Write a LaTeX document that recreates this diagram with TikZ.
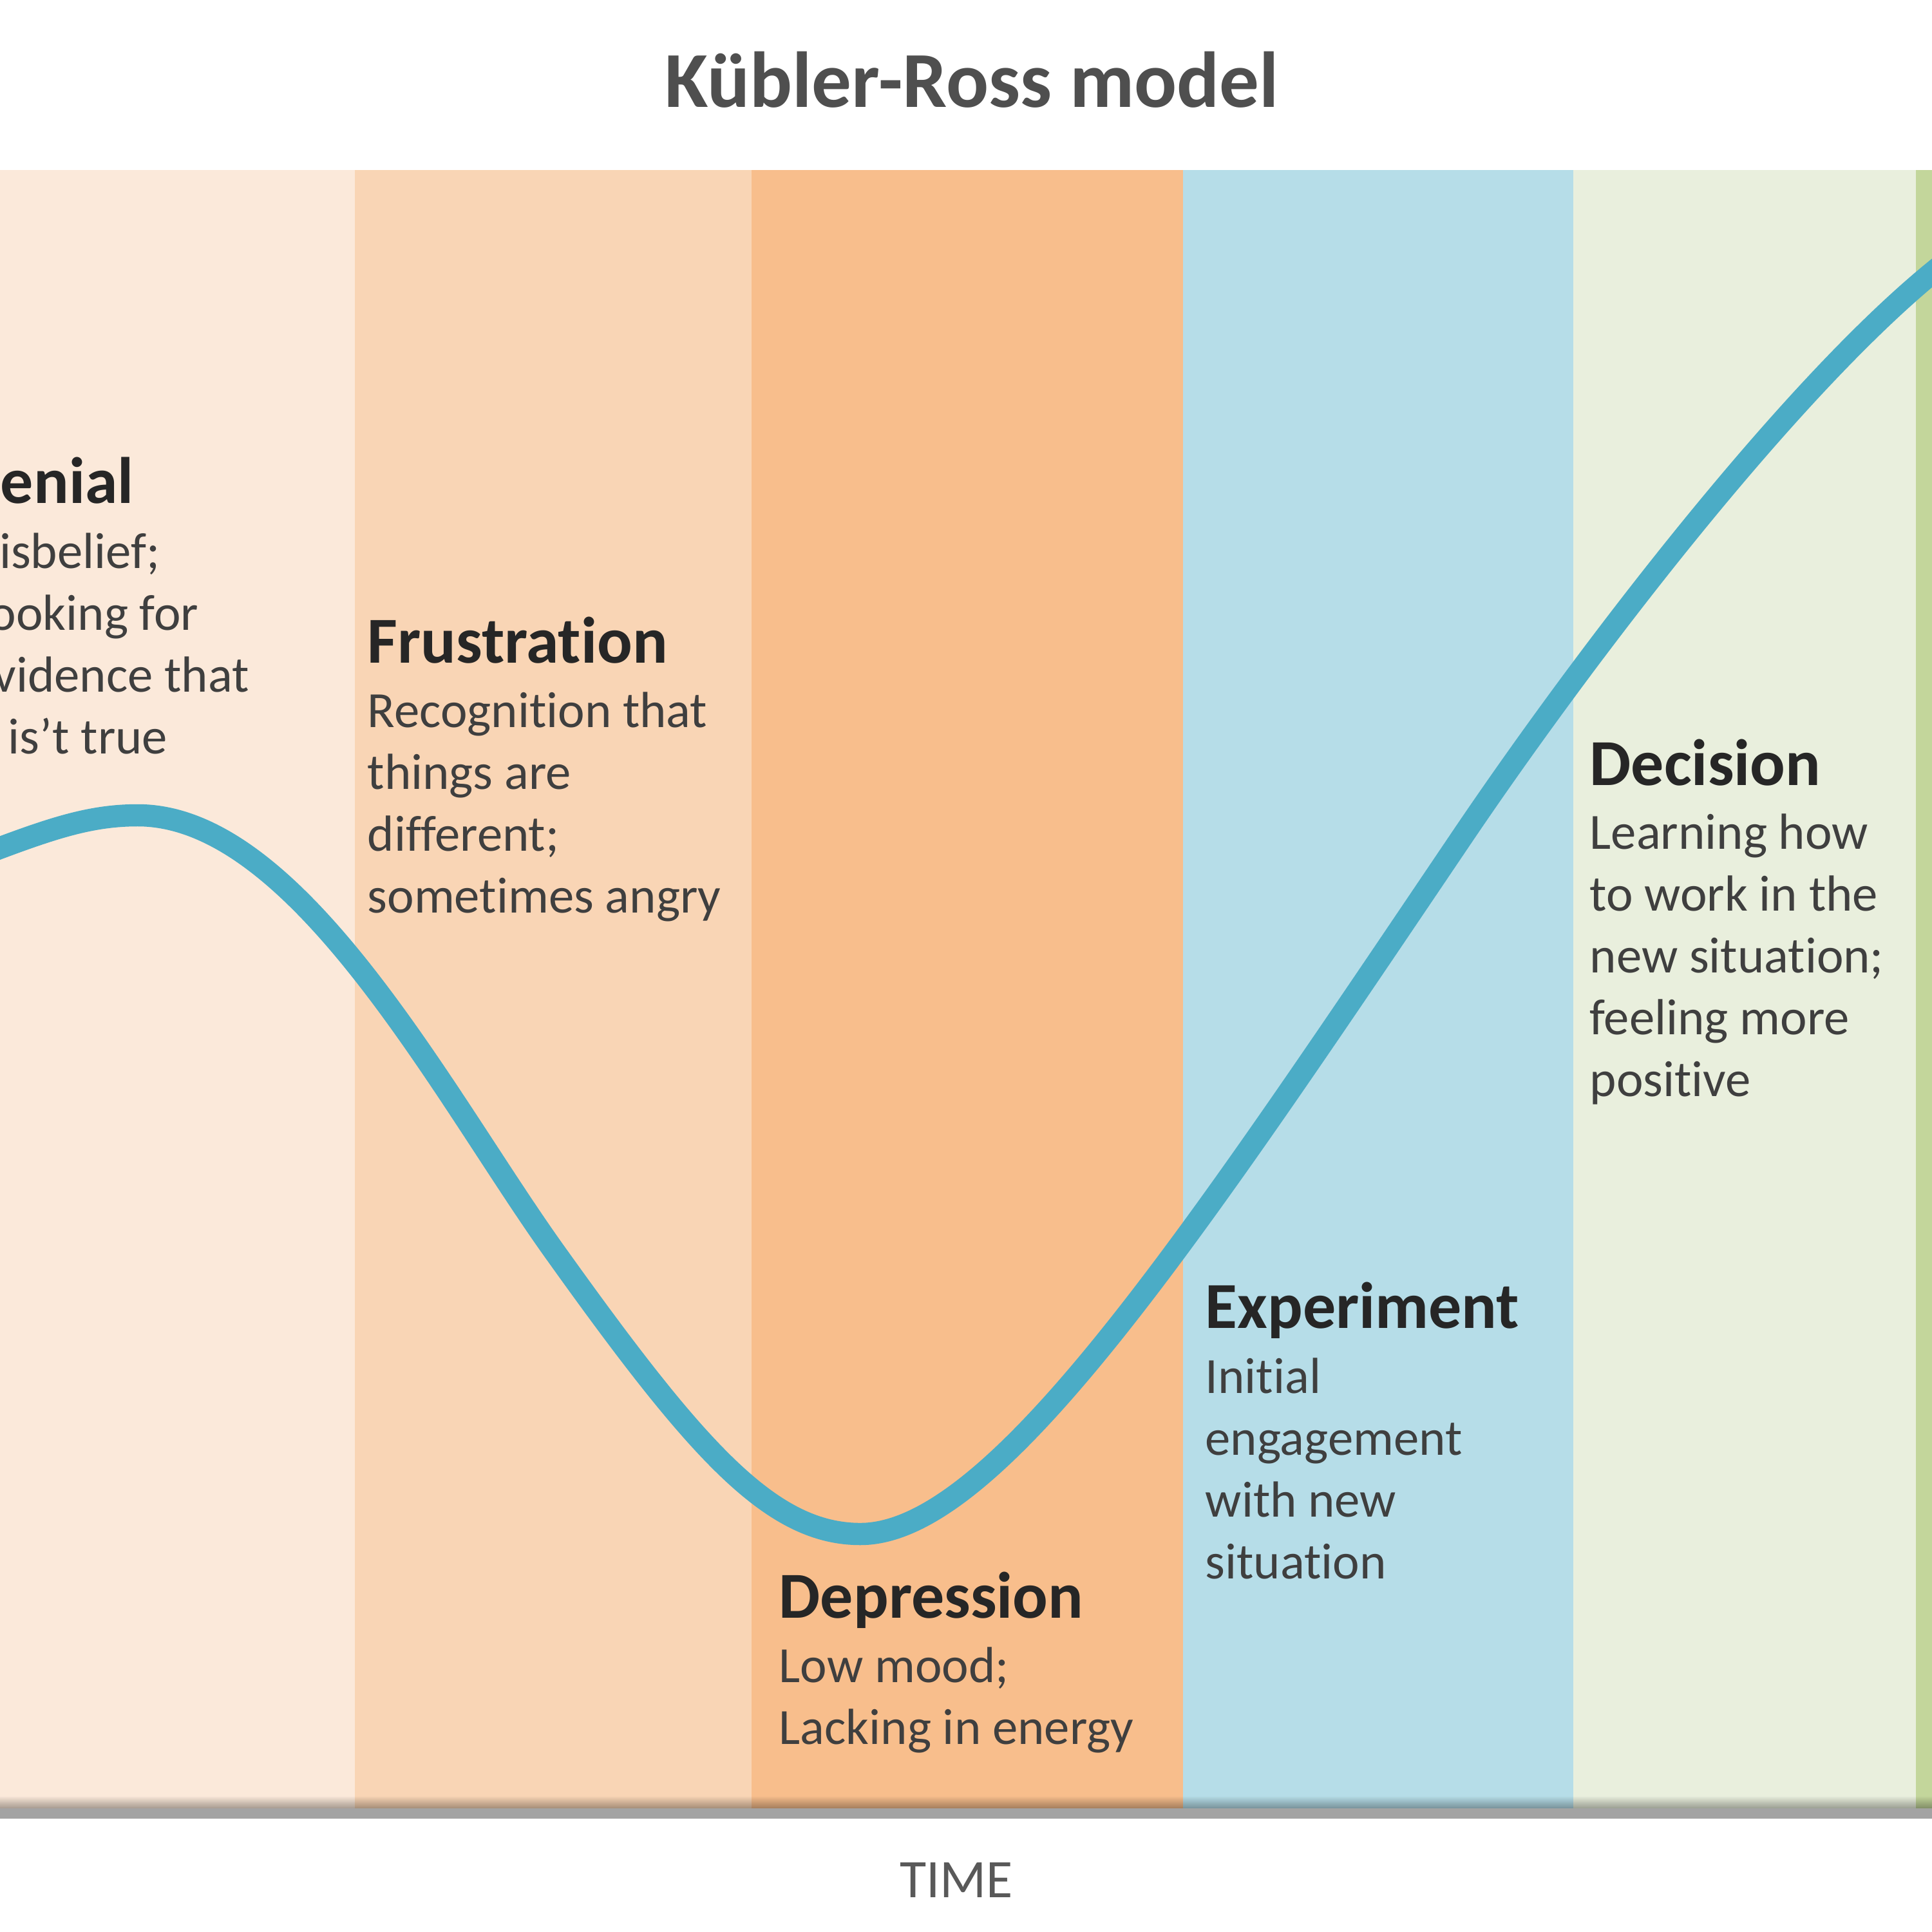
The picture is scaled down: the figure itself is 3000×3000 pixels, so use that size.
\documentclass[tikz,border=0pt]{standalone}
\usepackage{fontspec}
\setmainfont{Carlito}[Ligatures={NoCommon,NoContextual,NoRare},Contextuals=NoAlternate]
\definecolor{bandA}{HTML}{FBE9DA}
\definecolor{bandB}{HTML}{F9D5B5}
\definecolor{bandC}{HTML}{F8BE8C}
\definecolor{bandD}{HTML}{B6DDE8}
\definecolor{bandE}{HTML}{E9EFDD}
\definecolor{bandF}{HTML}{C3D69B}
\definecolor{curvec}{HTML}{4BACC6}
\definecolor{titlec}{HTML}{4F4F4F}
\definecolor{headc}{HTML}{262626}
\definecolor{bodyc}{HTML}{3F3F3F}
\definecolor{timec}{HTML}{595959}
\begin{document}
\begin{tikzpicture}[x=0.01cm,y=-0.01cm,
  band/.style={fill=#1, draw=none},
  head/.style={anchor=base west, inner sep=0pt, text=headc, font=\fontsize{29}{35}\selectfont\bfseries},
  body/.style={anchor=base west, inner sep=0pt, text=bodyc, font=\fontsize{22.4}{27.3}\selectfont},
  curve/.style={draw=curvec, line width=9.8pt}
]
\useasboundingbox (0,0) rectangle (3000,3000);
\begin{scope}
\clip (0,0) rectangle (3000,3000);
% bands
\fill[band=bandA] (0,264) rectangle (551,2808);
\fill[band=bandB] (551,264) rectangle (1167,2808);
\fill[band=bandC] (1167,264) rectangle (1837,2808);
\fill[band=bandD] (1837,264) rectangle (2443,2808);
\fill[band=bandE] (2443,264) rectangle (2975,2808);
\fill[band=bandF] (2975,264) rectangle (3000,2808);
% bottom shadow
\foreach \i in {0,...,9}
  \fill[black, opacity=0.035*\i] (0,2788+2*\i) rectangle (3000,2790+2*\i);
\fill[black!36] (0,2808) rectangle (3000,2824);

% curve
\coordinate (c0) at (-30,1328);
\coordinate (peak) at (214,1266);
\coordinate (s1) at (860,1942);
\coordinate (low) at (1336,2382);
\coordinate (s2) at (2270,1300);
\coordinate (c5) at (3030,400);
\draw[curve] (c0) .. controls (80,1286) and (140,1266) .. (peak)
  .. controls (464,1266) and (690,1704) .. (s1)
  .. controls (1080,2250) and (1196,2382) .. (low)
  .. controls (1546,2382) and (1850,1922) .. (s2)
  .. controls (2470,1004) and (2800,575) .. (c5);

% texts
\node[head] (denH) at (-64,781) {Denial};
\node[body] (denB) at (-50,882) {\parbox[t]{8cm}{\raggedright Disbelief;\\Looking for\\evidence that\\it is’t true}};

\node[head] (fruH) at (570,1029) {Frustration};
\node[body] (fruB) at (570,1129) {\parbox[t]{8cm}{\raggedright Recognition that\\things are\\different;\\sometimes angry}};

\node[head] (depH) at (1209,2512) {Depression};
\node[body] (depB) at (1209,2612) {\parbox[t]{8cm}{\raggedright Low mood;\\Lacking in energy}};

\node[head] (expH) at (1871,2062) {Experiment};
\node[body] (expB) at (1871,2163) {\parbox[t]{8cm}{\raggedright Initial\\engagement\\with new\\situation}};

\node[head] (decH) at (2468,1219) {Decision};
\node[body] (decB) at (2468,1318) {\parbox[t]{8cm}{\raggedright Learning how\\to work in the\\new situation;\\feeling more\\positive}};
\end{scope}

\node[anchor=base, inner sep=0pt, text=titlec, font=\fontsize{35}{42}\selectfont\bfseries] (title) at (1509,167) {Kübler-Ross model};
\node[anchor=base, inner sep=0pt, text=timec, font=\fontsize{24}{29}\selectfont] (time) at (1485,2946) {TIME};
\end{tikzpicture}
\end{document}
